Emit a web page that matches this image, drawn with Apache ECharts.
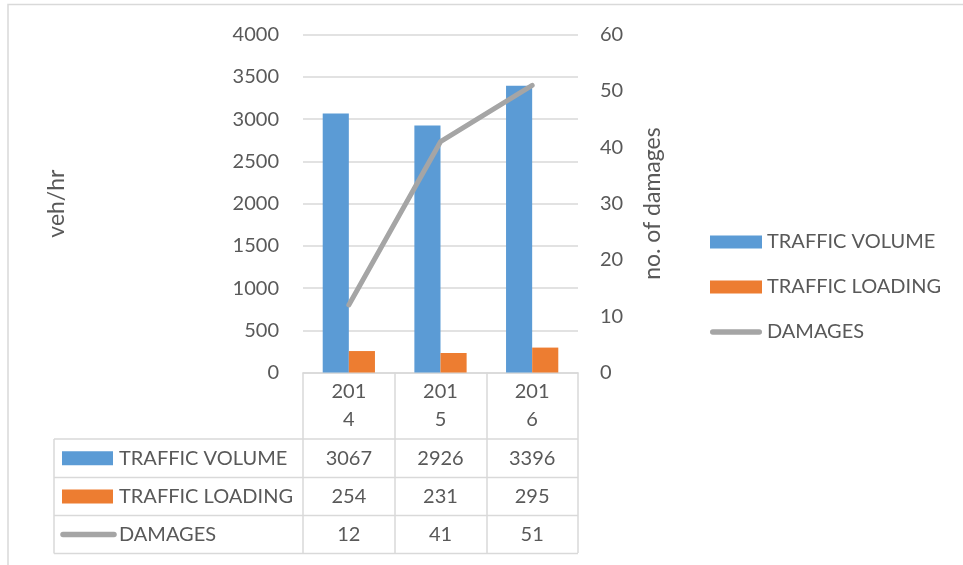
<!DOCTYPE html>
<html>
<head>
<meta charset="utf-8">
<script src="https://cdn.jsdelivr.net/npm/echarts@6/dist/echarts.min.js"></script>
<style>
  html, body { margin: 0; padding: 0; background: #fff; }
  #chart { width: 963px; height: 565px; }
</style>
</head>
<body>
<div id="chart"></div>
<script>
// Yearly traffic figures and recorded damages
const years = ['2014', '2015', '2016'];
const trafficVolume = [3067, 2926, 3396];
const trafficLoading = [254, 231, 295];
const damages = [12, 41, 51];
const seriesNames = ['TRAFFIC VOLUME', 'TRAFFIC LOADING', 'DAMAGES'];

const FONT = 'Lato';
const TEXT = '#595959';
const RULE = '#d9d9d9';
const BLUE = '#5b9bd5';
const ORANGE = '#ed7d31';
const GREY = '#a5a5a5';
// thick rounded stroke used as the line-series key
const LINE_KEY = 'path://M2.75,0 H49.25 A2.75,2.75 0 0 1 49.25,5.5 H2.75 A2.75,2.75 0 0 1 2.75,0 Z';

const chart = echarts.init(document.getElementById('chart'), null, { renderer: 'canvas' });

const grid = { left: 303, right: 385, top: 34.7, bottom: 192.5 };

chart.setOption({
  animation: false,
  backgroundColor: '#fff',
  textStyle: { fontFamily: FONT },
  grid: grid,
  legend: {
    orient: 'vertical',
    left: 710,
    top: 231,
    padding: 0,
    itemWidth: 52,
    itemHeight: 13,
    itemGap: 23,
    symbolKeepAspect: true,
    textStyle: { color: TEXT, fontSize: 20, lineHeight: 22, fontFamily: FONT },
    data: [
      { name: seriesNames[0], icon: 'rect' },
      { name: seriesNames[1], icon: 'rect' },
      { name: seriesNames[2], icon: LINE_KEY, itemStyle: { color: GREY } }
    ]
  },
  xAxis: {
    type: 'category',
    data: years,
    axisLine: { lineStyle: { color: RULE, width: 1.5 } },
    axisTick: { show: true, length: 180.5, lineStyle: { color: RULE, width: 1.5 } },
    axisLabel: {
      color: TEXT, fontSize: 20, lineHeight: 28, margin: 5, fontFamily: FONT,
      formatter: v => v.slice(0, 3) + '\n' + v.slice(3)
    }
  },
  yAxis: [
    {
      type: 'value', min: 0, max: 4000, interval: 500,
      name: 'veh/hr', nameLocation: 'middle', nameGap: 235, nameRotate: 90,
      nameTextStyle: { color: TEXT, fontSize: 23, fontFamily: FONT },
      axisLine: { show: false }, axisTick: { show: false },
      axisLabel: { color: TEXT, fontSize: 20, margin: 24, fontFamily: FONT, formatter: v => String(v) },
      splitLine: { lineStyle: { color: RULE, width: 1.5 } }
    },
    {
      type: 'value', min: 0, max: 60, interval: 10,
      name: 'no. of damages', nameLocation: 'middle', nameGap: 63, nameRotate: 90,
      nameTextStyle: { color: TEXT, fontSize: 23, fontFamily: FONT },
      axisLine: { show: false }, axisTick: { show: false },
      axisLabel: { color: TEXT, fontSize: 20, margin: 22, fontFamily: FONT, formatter: v => String(v) },
      splitLine: { show: false }
    }
  ],
  series: [
    {
      name: seriesNames[0], type: 'bar', data: trafficVolume,
      itemStyle: { color: BLUE }, barGap: '0%', barCategoryGap: '43%'
    },
    {
      name: seriesNames[1], type: 'bar', data: trafficLoading,
      itemStyle: { color: ORANGE }, barGap: '0%', barCategoryGap: '43%'
    },
    {
      name: seriesNames[2], type: 'line', yAxisIndex: 1, data: damages,
      symbol: 'none', lineStyle: { color: GREY, width: 5, cap: 'round' },
      itemStyle: { color: GREY }
    }
  ]
});

// Data table under the plot: one row per series, one column per year
const tableLeft = 54;
const tableRight = 963 - grid.right;
const rowLines = [439, 477.5, 515.5, 553.5];
const rowValues = [trafficVolume, trafficLoading, damages];
const colX = years.map(y => chart.convertToPixel({ xAxisIndex: 0 }, y));

const gfx = [];
// outer frame of the chart area
gfx.push({
  type: 'rect', silent: true,
  shape: { x: 8, y: 4.5, width: 1100, height: 700 },
  style: { fill: null, stroke: RULE, lineWidth: 1.5 }
});
rowLines.forEach(y => gfx.push({
  type: 'line', silent: true,
  shape: { x1: tableLeft, y1: y, x2: tableRight, y2: y },
  style: { stroke: RULE, lineWidth: 1.5 }
}));
gfx.push({
  type: 'line', silent: true,
  shape: { x1: tableLeft, y1: rowLines[0], x2: tableLeft, y2: rowLines[3] },
  style: { stroke: RULE, lineWidth: 1.5 }
});
const keyColors = [BLUE, ORANGE, GREY];
rowValues.forEach((vals, r) => {
  const cy = (rowLines[r] + rowLines[r + 1]) / 2;
  if (r < 2) {
    gfx.push({
      type: 'rect', silent: true,
      shape: { x: 62, y: cy - 7, width: 51, height: 14 },
      style: { fill: keyColors[r] }
    });
  } else {
    gfx.push({
      type: 'line', silent: true,
      shape: { x1: 63, y1: cy, x2: 114, y2: cy },
      style: { stroke: GREY, lineWidth: 5.5, lineCap: 'round' }
    });
  }
  gfx.push({
    type: 'text', silent: true,
    x: 119, y: cy,
    style: { text: seriesNames[r], fill: TEXT, font: '20px ' + FONT, verticalAlign: 'middle', align: 'left' }
  });
  vals.forEach((v, c) => gfx.push({
    type: 'text', silent: true,
    x: colX[c], y: cy,
    style: { text: String(v), fill: TEXT, font: '20px ' + FONT, verticalAlign: 'middle', align: 'center' }
  }));
});
chart.setOption({ graphic: gfx });
</script>
</body>
</html>
